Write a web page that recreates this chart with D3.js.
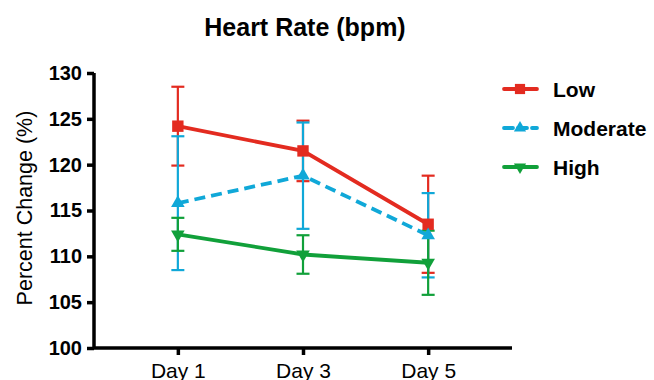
<!DOCTYPE html>
<html>
<head>
<meta charset="utf-8">
<script src="https://cdn.jsdelivr.net/npm/d3@7"></script>
<style>
  body { margin: 0; background: #fff; }
  svg { font-family: Arial, "Liberation Sans", sans-serif; }
</style>
</head>
<body>
<svg id="chart"></svg>
<script>
const width = 654, height = 380;

const days = ["Day 1", "Day 3", "Day 5"];
const seriesNames = ["Low", "Moderate", "High"];
const lowMean = [124.2, 121.5, 113.5];
const lowErr = [4.3, 3.3, 5.3];
const moderateMean = [115.8, 118.8, 112.3];
const moderateErr = [7.3, 5.8, 4.6];
const highMean = [112.4, 110.2, 109.3];
const highErr = [1.8, 2.1, 3.5];
const yTicks = [100, 105, 110, 115, 120, 125, 130];

const colors = ["#e32b20", "#10a8d8", "#11a03a"];
const symbols = [d3.symbolSquare, d3.symbolTriangle, d3.symbolTriangle];

const series = [
  { name: seriesNames[0], mean: lowMean, err: lowErr, color: colors[0], dash: null, symbol: symbols[0], rot: 0, size: 130 },
  { name: seriesNames[1], mean: moderateMean, err: moderateErr, color: colors[1], dash: "11,6", symbol: symbols[1], rot: 0, size: 80 },
  { name: seriesNames[2], mean: highMean, err: highErr, color: colors[2], dash: null, symbol: symbols[2], rot: 180, size: 80 }
];

const svg = d3.select("#chart")
              .attr("width", width)
              .attr("height", height);

const x = d3.scalePoint()
            .domain(days)
            .range([94, 512])
            .padding(0.67);

const y = d3.scaleLinear()
            .domain([100, 130])
            .range([348, 73]);

// title
svg.append("text")
   .attr("x", 305)
   .attr("y", 36)
   .attr("text-anchor", "middle")
   .style("font-size", "25px")
   .style("font-weight", "bold")
   .text("Heart Rate (bpm)");

// axes
const yAxis = svg.append("g")
   .attr("transform", "translate(94,0)")
   .call(d3.axisLeft(y).tickValues(yTicks).tickSize(7).tickPadding(5));

const xAxis = svg.append("g")
   .attr("transform", "translate(0,348)")
   .call(d3.axisBottom(x).tickSize(7).tickPadding(8));

yAxis.select(".domain").attr("d", "M94,73V348").attr("transform", "translate(-94,0)");
xAxis.select(".domain").attr("d", "M93,0H512");

[yAxis, xAxis].forEach(a => {
  a.select(".domain").attr("stroke", "#000").attr("stroke-width", 3.5);
  a.selectAll(".tick line").attr("stroke", "#000").attr("stroke-width", 3.5);
});
yAxis.selectAll(".tick text")
     .style("font-size", "20px")
     .style("font-weight", "bold")
     .attr("fill", "#000");
xAxis.selectAll(".tick text")
     .style("font-size", "21px")
     .attr("fill", "#000");

svg.append("text")
   .attr("transform", "translate(32,208) rotate(-90)")
   .attr("text-anchor", "middle")
   .style("font-size", "21.5px")
   .text("Percent Change (%)");

// error bars
series.forEach(s => {
  const g = svg.append("g");
  days.forEach((d, i) => {
    const cx = x(d);
    const top = y(s.mean[i] + s.err[i]);
    const bot = y(s.mean[i] - s.err[i]);
    g.append("line")
     .attr("x1", cx).attr("x2", cx)
     .attr("y1", top).attr("y2", bot)
     .attr("stroke", s.color).attr("stroke-width", 2.2);
    [top, bot].forEach(yy => {
      g.append("line")
       .attr("x1", cx - 6.5).attr("x2", cx + 6.5)
       .attr("y1", yy).attr("y2", yy)
       .attr("stroke", s.color).attr("stroke-width", 2.2);
    });
  });
});

// lines and markers
const line = d3.line()
               .x((d, i) => x(days[i]))
               .y(d => y(d));

series.forEach(s => {
  svg.append("path")
     .datum(s.mean)
     .attr("d", line)
     .attr("fill", "none")
     .attr("stroke", s.color)
     .attr("stroke-width", 3.8)
     .attr("stroke-dasharray", s.dash);

  svg.selectAll(null)
     .data(s.mean)
     .enter()
     .append("path")
     .attr("d", d3.symbol().type(s.symbol).size(s.size))
     .attr("transform", (d, i) => `translate(${x(days[i])},${y(d)}) rotate(${s.rot})`)
     .attr("fill", s.color);
});

// legend
const legend = svg.append("g");
series.forEach((s, i) => {
  const ly = 89 + i * 39;
  legend.append("line")
        .attr("x1", 504).attr("x2", 537)
        .attr("y1", ly).attr("y2", ly)
        .attr("stroke", s.color)
        .attr("stroke-width", 3.8)
        .attr("stroke-linecap", "round")
        .attr("stroke-dasharray", s.dash ? "9,5" : null);
  legend.append("path")
        .attr("d", d3.symbol().type(s.symbol).size(s.size * 0.8))
        .attr("transform", `translate(520,${ly}) rotate(${s.rot})`)
        .attr("fill", s.color);
  legend.append("text")
        .attr("x", 553)
        .attr("y", ly + 7.5)
        .style("font-size", "21px")
        .style("font-weight", "bold")
        .text(s.name);
});
</script>
</body>
</html>
